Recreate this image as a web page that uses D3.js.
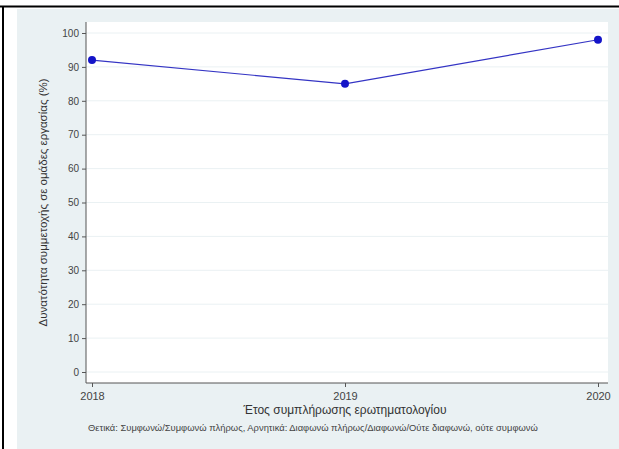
<!DOCTYPE html>
<html><head><meta charset="utf-8">
<script src="https://cdn.jsdelivr.net/npm/d3@7"></script>
<style>html,body{margin:0;padding:0;background:#fff;}svg{display:block;}</style>
</head><body>
<script>
const years = [2018, 2019, 2020];
const values = [92, 85, 98];
const yTicks = [0, 10, 20, 30, 40, 50, 60, 70, 80, 90, 100];
const yTitle = "Δυνατότητα συμμετοχής σε ομάδες εργασίας (%)";
const xTitle = "Έτος συμπλήρωσης ερωτηματολογίου";
const note = "Θετικά: Συμφωνώ/Συμφωνώ πλήρως, Αρνητικά: Διαφωνώ πλήρως/Διαφωνώ/Ούτε διαφωνώ, ούτε συμφωνώ";

const W = 619, H = 449;
const svg = d3.select("body").append("svg").attr("width", W).attr("height", H);
const font = "'Liberation Sans', Arial, sans-serif";

// outer frame
svg.append("rect").attr("x", 0).attr("y", 0).attr("width", W).attr("height", H).attr("fill", "#fff");
svg.append("rect").attr("x", 17).attr("y", 9).attr("width", W - 17).attr("height", H - 9).attr("fill", "#eaf1f3");
svg.append("line").attr("x1", 0).attr("x2", W).attr("y1", 6.5).attr("y2", 6.5).attr("stroke", "#000").attr("stroke-width", 2);
svg.append("line").attr("x1", 3).attr("x2", 3).attr("y1", 6).attr("y2", H).attr("stroke", "#000").attr("stroke-width", 2);

const plot = {x0: 86, x1: 608, y0: 22, y1: 383};
svg.append("rect").attr("x", plot.x0).attr("y", plot.y0).attr("width", plot.x1 - plot.x0).attr("height", plot.y1 - plot.y0).attr("fill", "#fff");

const x = d3.scaleLinear().domain([2018, 2020]).range([92, 598]);
const y = d3.scaleLinear().domain([0, 100]).range([372, 33]);

// gridlines
svg.append("g").selectAll("line").data(yTicks).join("line")
  .attr("x1", plot.x0).attr("x2", plot.x1)
  .attr("y1", d => y(d)).attr("y2", d => y(d))
  .attr("stroke", "#eaf1f3").attr("stroke-width", 1);

// y axis
const yAxis = svg.append("g").attr("transform", `translate(${plot.x0},0)`)
  .call(d3.axisLeft(y).tickValues(yTicks).tickSize(4).tickPadding(3));
yAxis.select(".domain").attr("d", `M0,${plot.y0}V${plot.y1}`).attr("stroke", "#555");
yAxis.selectAll(".tick line").attr("stroke", "#555");
yAxis.selectAll("text").attr("font-family", font).attr("font-size", 10).attr("fill", "#444");

// x axis
const xAxis = svg.append("g").attr("transform", `translate(0,${plot.y1})`)
  .call(d3.axisBottom(x).tickValues(years).tickFormat(d3.format("d")).tickSize(4).tickPadding(5));
xAxis.select(".domain").attr("d", `M${plot.x0},0H${plot.x1}`).attr("stroke", "#555");
xAxis.selectAll(".tick line").attr("stroke", "#555");
xAxis.selectAll("text").attr("font-family", font).attr("font-size", 11).attr("fill", "#444");

// line
const data = years.map((d, i) => ({year: d, value: values[i]}));
svg.append("path").datum(data)
  .attr("d", d3.line().x(d => x(d.year)).y(d => y(d.value)))
  .attr("fill", "none").attr("stroke", "#3434c4").attr("stroke-width", 1.2);
svg.append("g").selectAll("circle").data(data).join("circle")
  .attr("cx", d => x(d.year)).attr("cy", d => y(d.value)).attr("r", 4)
  .attr("fill", "#1414c8");

// titles
svg.append("text").attr("transform", `translate(47,${(plot.y0 + plot.y1) / 2}) rotate(-90)`)
  .attr("text-anchor", "middle").attr("font-family", font).attr("font-size", 11.5).attr("fill", "#333").text(yTitle);
svg.append("text").attr("x", (plot.x0 + plot.x1) / 2 - 2).attr("y", 414)
  .attr("text-anchor", "middle").attr("font-family", font).attr("font-size", 12).attr("fill", "#333").text(xTitle);
svg.append("text").attr("x", 88).attr("y", 431)
  .attr("font-family", font).attr("font-size", 9.4).attr("fill", "#444").text(note);
</script>
</body></html>
